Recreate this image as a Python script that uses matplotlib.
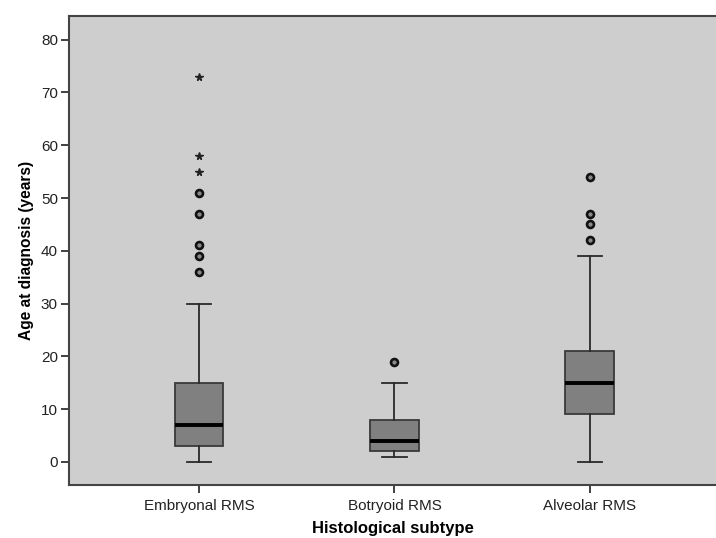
import matplotlib
matplotlib.use("Agg")
import matplotlib.pyplot as plt

# Age at diagnosis by histological subtype (summary statistics per group)
categories = ["Embryonal RMS", "Botryoid RMS", "Alveolar RMS"]
whisker_low = [0, 1, 0]
q1 = [3, 2, 9]
median = [7, 4, 15]
q3 = [15, 8, 21]
whisker_high = [30, 15, 39]
outliers_mild = [[36, 39, 41, 47, 51], [19], [42, 45, 47, 54]]
outliers_extreme = [[55, 58, 73], [], []]
y_ticks = [0, 10, 20, 30, 40, 50, 60, 70, 80]

plt.rcParams["font.family"] = ["Liberation Sans", "DejaVu Sans"]

fig = plt.figure(figsize=(7.16, 5.38), dpi=100)
ax = fig.add_axes([69 / 716, 53 / 538, 1 - 69 / 716, (485 - 16) / 538])
ax.set_facecolor("#cecece")

positions = [1, 2, 3]
stats = []
for i, name in enumerate(categories):
    stats.append(dict(label=name, whislo=whisker_low[i], q1=q1[i], med=median[i],
                      q3=q3[i], whishi=whisker_high[i], fliers=[]))

ax.bxp(stats, positions=positions, widths=0.25, patch_artist=True,
       showfliers=False,
       boxprops=dict(facecolor="#808080", edgecolor="#3a3a3a", linewidth=1.3),
       medianprops=dict(color="black", linewidth=2.8),
       whiskerprops=dict(color="#2a2a2a", linewidth=1.3),
       capprops=dict(color="#2a2a2a", linewidth=1.3),
       capwidths=0.125)

for x, vals in zip(positions, outliers_mild):
    if vals:
        ax.plot([x] * len(vals), vals, linestyle="none", marker="o",
                markersize=5, markerfacecolor="#8a8a8a",
                markeredgecolor="#111111", markeredgewidth=1.9)
for x, vals in zip(positions, outliers_extreme):
    if vals:
        ax.plot([x] * len(vals), vals, linestyle="none", marker="*",
                markersize=5.5, color="#222222")

ax.set_xlim(0.335, 3.645)
ax.set_ylim(-4.4, 84.5)
ax.set_yticks(y_ticks)
ax.set_xticks(positions)
ax.set_xticklabels(categories)
ax.tick_params(axis="both", direction="out", length=6, width=1.3,
               color="#333333", labelsize=11, labelcolor="#222222")
ax.tick_params(axis="y", pad=2)
ax.tick_params(axis="x", pad=4)

for side in ["left", "top", "bottom"]:
    ax.spines[side].set_color("#444444")
    ax.spines[side].set_linewidth(1.5)
ax.spines["right"].set_visible(False)

ax.set_ylabel("Age at diagnosis (years)", fontsize=11.2, fontweight="bold", labelpad=5)
ax.set_xlabel("Histological subtype", fontsize=12, fontweight="bold", labelpad=6)

fig.savefig("out.png", dpi=100)
